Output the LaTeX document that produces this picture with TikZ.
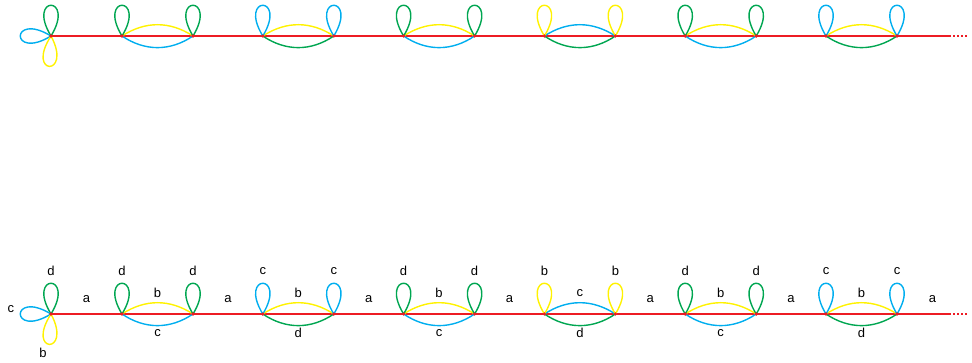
\documentclass[tikz,border=0pt]{standalone}
\usepackage{fontspec}
\setmainfont{Liberation Sans}
\usetikzlibrary{calc}
\definecolor{cola}{RGB}{237,28,36}
\definecolor{colb}{RGB}{255,242,0}
\definecolor{colc}{RGB}{0,174,239}
\definecolor{cold}{RGB}{0,166,81}
\begin{document}
\begin{tikzpicture}[x=1pt,y=-1pt,
  edge/.style={line width=1.4pt},
  lbl/.style={font=\fontsize{13}{15}\selectfont, inner sep=0pt},
  vdot/.style={fill=cola}]
\useasboundingbox (0,0) rectangle (972,362);
\foreach \r/\Y in {t/36,b/314} {
  \coordinate (\r V) at (51,\Y);
  \coordinate (\r S) at (949,\Y);
  \coordinate (\r E) at (968,\Y);
  \draw[edge,color=cola] (\r V) -- (\r S);
  \draw[edge,color=cola,dash pattern=on 2pt off 2pt] (\r S) -- (\r E);
  \draw[edge,color=cold] (\r V) .. controls +(-25,-41) and +(25,-41) .. (\r V);
  \draw[edge,color=colc] (\r V) .. controls +(-41,-25) and +(-41,25) .. (\r V);
  \draw[edge,color=colb] (\r V) .. controls +(-26,40) and +(22,41) .. (\r V);
  \fill[vdot] (\r V) circle (1.8);
  \foreach \k/\lp/\up/\lo in {0/d/b/c,1/c/b/d,2/d/b/c,3/b/c/d,4/d/b/c,5/c/b/d} {
    \pgfmathsetmacro\xl{122+140.8*\k}
    \pgfmathsetmacro\xr{\xl+71}
    \coordinate (\r L\k) at (\xl,\Y);
    \coordinate (\r R\k) at (\xr,\Y);
    \draw[edge,color=col\up] (\r L\k) to[bend left=33] (\r R\k);
    \draw[edge,color=col\lo] (\r L\k) to[bend right=34] (\r R\k);
    \draw[edge,color=col\lp] (\r L\k) .. controls +(-25,-41) and +(25,-41) .. (\r L\k);
    \draw[edge,color=col\lp] (\r R\k) .. controls +(-25,-41) and +(25,-41) .. (\r R\k);
    \fill[vdot] (\r L\k) circle (1.8);
    \fill[vdot] (\r R\k) circle (1.8);
  }
}
% labels (bottom row)
\node[lbl] (lv1) at ($(bV)+(0,-43)$) {d};
\node[lbl] (lv2) at ($(bV)+(-40,-5)$) {c};
\node[lbl] (lv3) at ($(bV)+(-8,39)$) {b};
\node[lbl] (la0) at ($(bV)!0.5!(bL0)+(0,-15)$) {a};
\foreach \k/\lp/\up/\lo in {0/d/b/c,1/c/b/d,2/d/b/c,3/b/c/d,4/d/b/c,5/c/b/d} {
  \node[lbl] (ll\k) at ($(bL\k)+(0,-43)$) {\lp};
  \node[lbl] (lr\k) at ($(bR\k)+(0,-43)$) {\lp};
  \node[lbl] (lu\k) at ($(bL\k)!0.5!(bR\k)+(0,-21)$) {\up};
  \node[lbl] (lo\k) at ($(bL\k)!0.5!(bR\k)+(0,19)$) {\lo};
}
\foreach \k [evaluate=\k as \n using int(\k+1)] in {0,...,4} {
  \node[lbl] (la\n) at ($(bR\k)!0.5!(bL\n)+(0,-15)$) {a};
}
\node[lbl] (la6) at ($(bR5)!0.5!(bE)+(0,-15)$) {a};
\end{tikzpicture}
\end{document}
